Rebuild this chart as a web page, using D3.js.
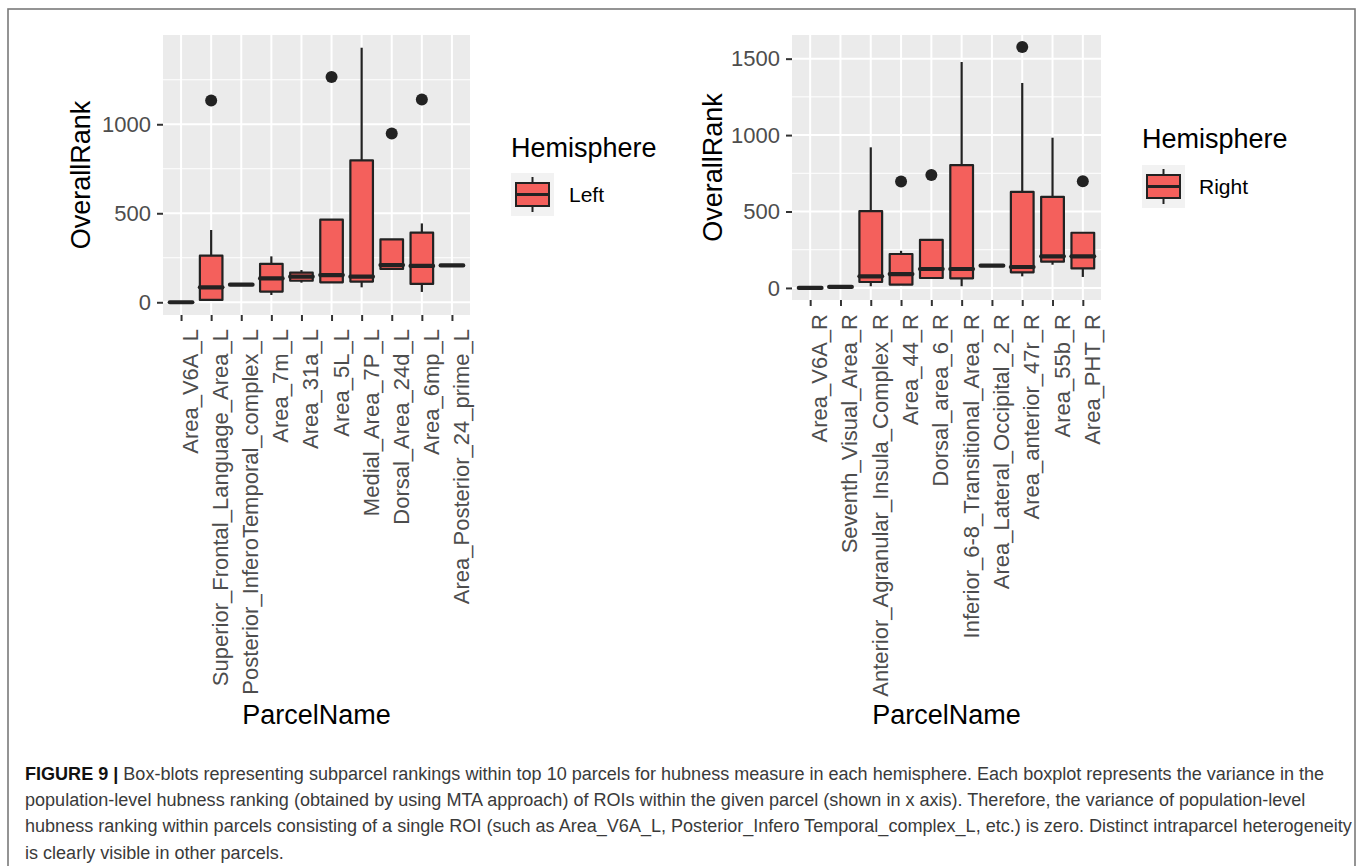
<!DOCTYPE html>
<html>
<head>
<meta charset="utf-8">
<script src="https://cdn.jsdelivr.net/npm/d3@7"></script>
<style>
  html, body { margin: 0; padding: 0; background: #ffffff; }
  svg { display: block; }
</style>
</head>
<body>
<svg id="chart" width="1360" height="866"></svg>
<script>
// ---------------- data ----------------
const leftParcels = ["Area_V6A_L", "Superior_Frontal_Language_Area_L", "Posterior_InferoTemporal_complex_L",
  "Area_7m_L", "Area_31a_L", "Area_5L_L", "Medial_Area_7P_L", "Dorsal_Area_24d_L", "Area_6mp_L",
  "Area_Posterior_24_prime_L"];
const leftLower  = [0,   9,  99,  41, 110, 112,  84, 187,  58, 207];
const leftQ1     = [0,  13,  99,  60, 121, 112, 116, 187, 103, 207];
const leftMedian = [0,  84,  99, 134, 144, 153, 144, 209, 204, 207];
const leftQ3     = [0, 262,  99, 216, 166, 464, 797, 353, 391, 207];
const leftUpper  = [0, 406,  99, 258, 181, 464, 1430, 353, 443, 207];
const leftOutliers = [[], [1133], [], [], [], [1266], [], [948], [1139], []];

const rightParcels = ["Area_V6A_R", "Seventh_Visual_Area_R", "Anterior_Agranular_Insula_Complex_R",
  "Area_44_R", "Dorsal_area_6_R", "Inferior_6-8_Transitional_Area_R", "Area_Lateral_Occipital_2_R",
  "Area_anterior_47r_R", "Area_55b_R", "Area_PHT_R"];
const rightLower  = [0, 7,  11,  22,  65,   11, 146,   76, 152,  72];
const rightQ1     = [0, 7,  39,  22,  65,   63, 146,  102, 172, 128];
const rightMedian = [0, 7,  76,  91, 124,  124, 146,  137, 207, 207];
const rightQ3     = [0, 7, 502, 222, 315,  804, 146,  628, 596, 361];
const rightUpper  = [0, 7, 920, 243, 315, 1478, 146, 1341, 983, 361];
const rightOutliers = [[], [], [], [696], [739], [], [], [1576], [], [698]];

const yTicksLeft = [0, 500, 1000];
const yMinorLeft = [250, 750, 1250];
const yTicksRight = [0, 500, 1000, 1500];
const yMinorRight = [250, 750, 1250];

const legendTitle = "Hemisphere";
const legendLabels = ["Left", "Right"];
const xTitle = "ParcelName";
const yTitle = "OverallRank";

const captionBold = "FIGURE 9 | ";
const captionLines = [
  "Box-blots representing subparcel rankings within top 10 parcels for hubness measure in each hemisphere. Each boxplot represents the variance in the",
  "population-level hubness ranking (obtained by using MTA approach) of ROIs within the given parcel (shown in x axis). Therefore, the variance of population-level",
  "hubness ranking within parcels consisting of a single ROI (such as Area_V6A_L, Posterior_Infero Temporal_complex_L, etc.) is zero. Distinct intraparcel heterogeneity",
  "is clearly visible in other parcels."
];

// ---------------- style ----------------
const FONT = "'Liberation Sans', Arial, Helvetica, sans-serif";
const FILL = "#F4605C";
const INK = "#222222";
const PANEL_BG = "#EBEBEB";
const TICK_COL = "#4D4D4D";
const TICK_FS = "22px";

const svg = d3.select("#chart");

// outer frame
svg.append("rect").attr("x", 8).attr("y", 9).attr("width", 1347).attr("height", 900)
  .attr("fill", "none").attr("stroke", "#7a7a7a").attr("stroke-width", 1.6);

function drawPanel(cfg) {
  const { parcels, lower, q1, median, q3, upper, outliers, x0, x1, y0, y1,
          majorTicks, minorTicks, yTitleX, legendX, legendTitleY, keyY, labelX, legendLabel, xTitleY } = cfg;

  const all = [];
  parcels.forEach((p, i) => { all.push(lower[i], upper[i], ...outliers[i]); });
  const lo = d3.min(all), hi = d3.max(all), pad = (hi - lo) * 0.05;
  const y = d3.scaleLinear().domain([lo - pad, hi + pad]).range([y1, y0]);
  const x = d3.scalePoint().domain(parcels).range([x0, x1]).padding(0.6);
  const step = x.step();
  const bw = step * 0.75;

  const g = svg.append("g");
  g.append("rect").attr("x", x0).attr("y", y0).attr("width", x1 - x0).attr("height", y1 - y0)
    .attr("fill", PANEL_BG);

  // grid
  g.selectAll(".minor").data(minorTicks).enter().append("line")
    .attr("x1", x0).attr("x2", x1).attr("y1", d => y(d)).attr("y2", d => y(d))
    .attr("stroke", "#ffffff").attr("stroke-width", 1);
  g.selectAll(".major").data(majorTicks).enter().append("line")
    .attr("x1", x0).attr("x2", x1).attr("y1", d => y(d)).attr("y2", d => y(d))
    .attr("stroke", "#ffffff").attr("stroke-width", 2);
  g.selectAll(".vmajor").data(parcels).enter().append("line")
    .attr("x1", d => x(d)).attr("x2", d => x(d)).attr("y1", y0).attr("y2", y1)
    .attr("stroke", "#ffffff").attr("stroke-width", 2);

  // y axis
  const yAxis = d3.axisLeft(y).tickValues(majorTicks).tickSize(6).tickPadding(6).tickFormat(d3.format("d"));
  const ya = svg.append("g").attr("transform", `translate(${x0},0)`).call(yAxis);
  ya.select(".domain").remove();
  ya.selectAll(".tick line").attr("stroke", "#333333").attr("stroke-width", 2);
  ya.selectAll(".tick text").attr("fill", TICK_COL).style("font-family", FONT).style("font-size", TICK_FS);

  // x axis
  const xAxis = d3.axisBottom(x).tickSize(6).tickFormat("");
  const xa = svg.append("g").attr("transform", `translate(0,${y1})`).call(xAxis);
  xa.select(".domain").remove();
  xa.selectAll(".tick line").attr("stroke", "#333333").attr("stroke-width", 2);
  xa.selectAll(".tick").append("text")
    .attr("transform", "translate(16.5,14) rotate(-90)")
    .attr("text-anchor", "end")
    .attr("fill", TICK_COL)
    .style("font-family", FONT).style("font-size", TICK_FS)
    .text(d => d);

  // boxes
  const boxes = g.selectAll(".box").data(parcels).enter().append("g");
  boxes.append("line")
    .attr("x1", d => x(d)).attr("x2", d => x(d))
    .attr("y1", (d, i) => y(upper[i])).attr("y2", (d, i) => y(q3[i]))
    .attr("stroke", INK).attr("stroke-width", 2.2);
  boxes.append("line")
    .attr("x1", d => x(d)).attr("x2", d => x(d))
    .attr("y1", (d, i) => y(q1[i])).attr("y2", (d, i) => y(lower[i]))
    .attr("stroke", INK).attr("stroke-width", 2.2);
  boxes.append("path")
    .attr("d", (d, i) => {
      const l = x(d) - bw / 2, r = x(d) + bw / 2, t = y(q3[i]), b = y(q1[i]);
      return `M${l},${t}L${r},${t}L${r},${b}L${l},${b}Z`;
    })
    .attr("fill", FILL).attr("stroke", INK).attr("stroke-width", 2.2).attr("stroke-linejoin", "round");
  boxes.append("line")
    .attr("x1", d => x(d) - bw / 2).attr("x2", d => x(d) + bw / 2)
    .attr("y1", (d, i) => y(median[i])).attr("y2", (d, i) => y(median[i]))
    .attr("stroke", INK).attr("stroke-width", 4.2).attr("stroke-linecap", "round");
  parcels.forEach((p, i) => {
    g.selectAll(null).data(outliers[i]).enter().append("circle")
      .attr("cx", x(p)).attr("cy", d => y(d)).attr("r", 6).attr("fill", INK);
  });

  // axis titles
  svg.append("text")
    .attr("transform", `translate(${yTitleX},${(y0 + y1) / 2}) rotate(-90)`)
    .attr("text-anchor", "middle").attr("fill", "#000")
    .style("font-family", FONT).style("font-size", "27px").text(yTitle);
  svg.append("text")
    .attr("x", (x0 + x1) / 2).attr("y", xTitleY)
    .attr("text-anchor", "middle").attr("fill", "#000")
    .style("font-family", FONT).style("font-size", "27px").text(xTitle);

  // legend
  svg.append("text").attr("x", legendX).attr("y", legendTitleY).attr("fill", "#000")
    .style("font-family", FONT).style("font-size", "27px").text(legendTitle);
  const kx = legendX, ky = keyY, ks = 43;
  const lg = svg.append("g");
  lg.append("rect").attr("x", kx).attr("y", ky).attr("width", ks).attr("height", ks).attr("fill", "#F2F2F2");
  const cx = kx + ks / 2;
  lg.append("line").attr("x1", cx).attr("x2", cx).attr("y1", ky + 4).attr("y2", ky + ks - 4)
    .attr("stroke", INK).attr("stroke-width", 2);
  lg.append("rect").attr("x", kx + 5).attr("y", ky + 10).attr("width", ks - 10).attr("height", ks - 20)
    .attr("fill", FILL).attr("stroke", INK).attr("stroke-width", 2);
  lg.append("line").attr("x1", kx + 5).attr("x2", kx + ks - 5).attr("y1", ky + ks / 2).attr("y2", ky + ks / 2)
    .attr("stroke", INK).attr("stroke-width", 3);
  lg.append("text").attr("x", labelX).attr("y", ky + ks / 2 + 7.5).attr("fill", "#000")
    .style("font-family", FONT).style("font-size", "21px").text(legendLabel);
}

drawPanel({
  parcels: leftParcels, lower: leftLower, q1: leftQ1, median: leftMedian, q3: leftQ3, upper: leftUpper,
  outliers: leftOutliers, x0: 163, x1: 470, y0: 35, y1: 315,
  majorTicks: yTicksLeft, minorTicks: yMinorLeft, yTitleX: 90,
  legendX: 511, legendTitleY: 157, keyY: 173, labelX: 569, legendLabel: legendLabels[0], xTitleY: 724
});
drawPanel({
  parcels: rightParcels, lower: rightLower, q1: rightQ1, median: rightMedian, q3: rightQ3, upper: rightUpper,
  outliers: rightOutliers, x0: 792, x1: 1101, y0: 35, y1: 300,
  majorTicks: yTicksRight, minorTicks: yMinorRight, yTitleX: 722,
  legendX: 1142, legendTitleY: 148, keyY: 165, labelX: 1199, legendLabel: legendLabels[1], xTitleY: 724
});

// caption
const capX = 25, capY0 = 780, capDY = 26.2;
let fs = 16;
const cap = svg.append("g").style("font-family", FONT);
const first = cap.append("text").attr("x", capX).attr("y", capY0).style("font-size", fs + "px");
first.append("tspan").attr("font-weight", "bold").attr("fill", "#111").text(captionBold);
first.append("tspan").attr("fill", "#3a3a3a").text(captionLines[0]);
const w = first.node().getComputedTextLength();
fs = fs * 1300 / w;
first.style("font-size", fs + "px");
captionLines.slice(1).forEach((t, i) => {
  cap.append("text").attr("x", capX).attr("y", capY0 + capDY * (i + 1))
    .attr("fill", "#3a3a3a").style("font-size", fs + "px").text(t);
});
</script>
</body>
</html>
